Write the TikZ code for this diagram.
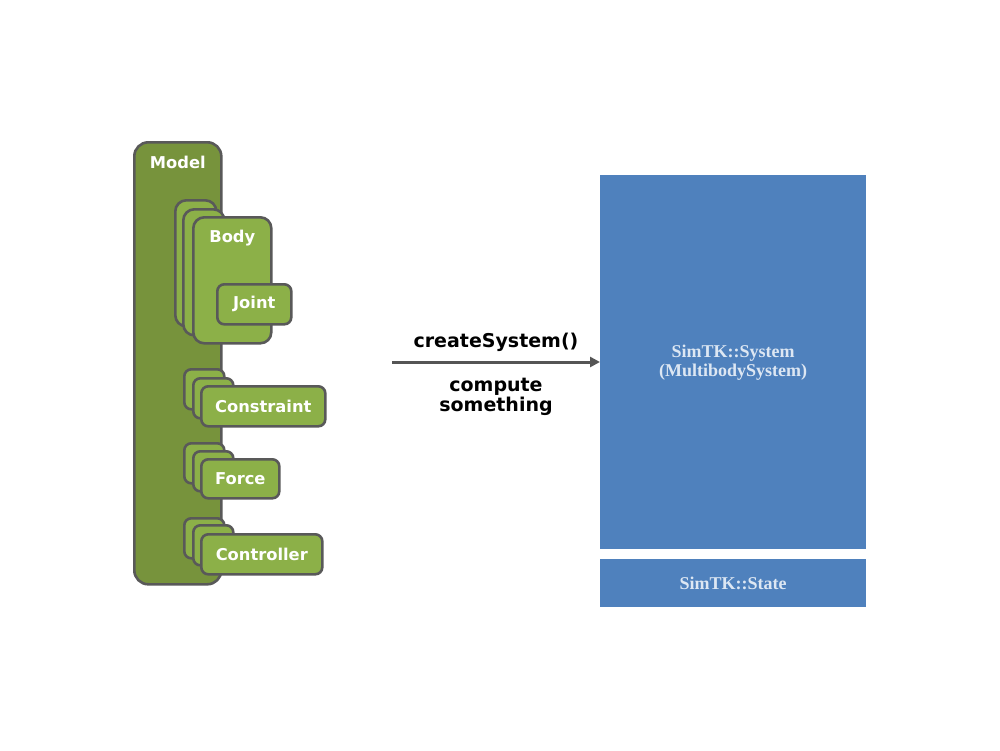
\documentclass[tikz,border=0pt]{standalone}
\usepackage{fontspec}
\newfontfamily\vsans{DejaVu Sans}
\newfontfamily\lserif{Liberation Serif}
\usetikzlibrary{arrows.meta}
\definecolor{gdark}{HTML}{77933C}
\definecolor{glight}{HTML}{8CB048}
\definecolor{gborder}{HTML}{595959}
\definecolor{sblue}{HTML}{4F81BD}
\definecolor{stext}{HTML}{DDE7F3}
\definecolor{arrgray}{HTML}{555555}
\begin{document}
\begin{tikzpicture}[x=1pt,y=-1pt,
  gbox/.style={draw=gborder, line width=2.6pt, fill=glight, rounded corners=7pt,
    anchor=north west, inner sep=0pt, text=white, font=\vsans\bfseries\fontsize{16.3}{19}\selectfont},
  modelbox/.style={gbox, fill=gdark, rounded corners=14pt},
  bodybox/.style={gbox, rounded corners=11pt},
  toplbl/.style={text=white, font=\vsans\bfseries\fontsize{16.3}{19}\selectfont, inner sep=0pt, anchor=north},
  sysbox/.style={fill=sblue, draw=none, anchor=north west, inner sep=0pt, align=center,
    text=stext, font=\lserif\bfseries\fontsize{18}{19}\selectfont},
  arrowline/.style={draw=arrgray, line width=3pt, -{Triangle[length=10pt,width=10pt]}},
  arrlbl/.style={font=\vsans\bfseries\fontsize{19}{18}\selectfont, inner sep=0pt, align=center, text=black}
]
\useasboundingbox (0,0) rectangle (1000,750);

% Model container
\node[modelbox, minimum width=87pt, minimum height=442pt,
  label={[toplbl, yshift=-15pt]north:Model}] (model) at (133,141) {};

% Body stack
\node[bodybox, minimum width=41pt, minimum height=126pt] (bodyc) at (174,199) {};
\node[bodybox, minimum width=41pt, minimum height=126pt] (bodyb) at (182,208) {};
\node[bodybox, minimum width=78pt, minimum height=126pt,
  label={[toplbl, yshift=-14pt]north:Body}] (body) at (192,216) {};
\node[gbox, minimum width=74pt, minimum height=40pt] (joint) at (216,283) {Joint};

% Constraint stack
\node[gbox, minimum width=40pt, minimum height=40pt] (conc) at (183,368) {};
\node[gbox, minimum width=40pt, minimum height=40pt] (conb) at (192,377) {};
\node[gbox, minimum width=124pt, minimum height=40pt] (constraint) at (200,385) {Constraint};

% Force stack
\node[gbox, minimum width=40pt, minimum height=40pt] (forc) at (183,442) {};
\node[gbox, minimum width=40pt, minimum height=40pt] (forb) at (192,450) {};
\node[gbox, minimum width=78pt, minimum height=39pt] (force) at (200,458) {Force};

% Controller stack
\node[gbox, minimum width=40pt, minimum height=40pt] (ctlc) at (183,517) {};
\node[gbox, minimum width=40pt, minimum height=40pt] (ctlb) at (192,524) {};
\node[gbox, minimum width=121pt, minimum height=40pt] (controller) at (200,533) {Controller};

% SimTK blocks
\node[sysbox, minimum width=266pt, minimum height=374pt] (sys) at (600,175)
  {SimTK::System\\(MultibodySystem)};
\node[sysbox, minimum width=266pt, minimum height=48pt] (state) at (600,559) {SimTK::State};

% Arrow
\coordinate (arrstart) at (392,362);
\draw[arrowline] (arrstart) -- (sys.west |- arrstart)
  node[arrlbl, midway, above=8.5pt] (lblcreate) {createSystem()}
  node[arrlbl, midway, below=15pt] (lblcompute) {compute\\something};
\end{tikzpicture}
\end{document}
